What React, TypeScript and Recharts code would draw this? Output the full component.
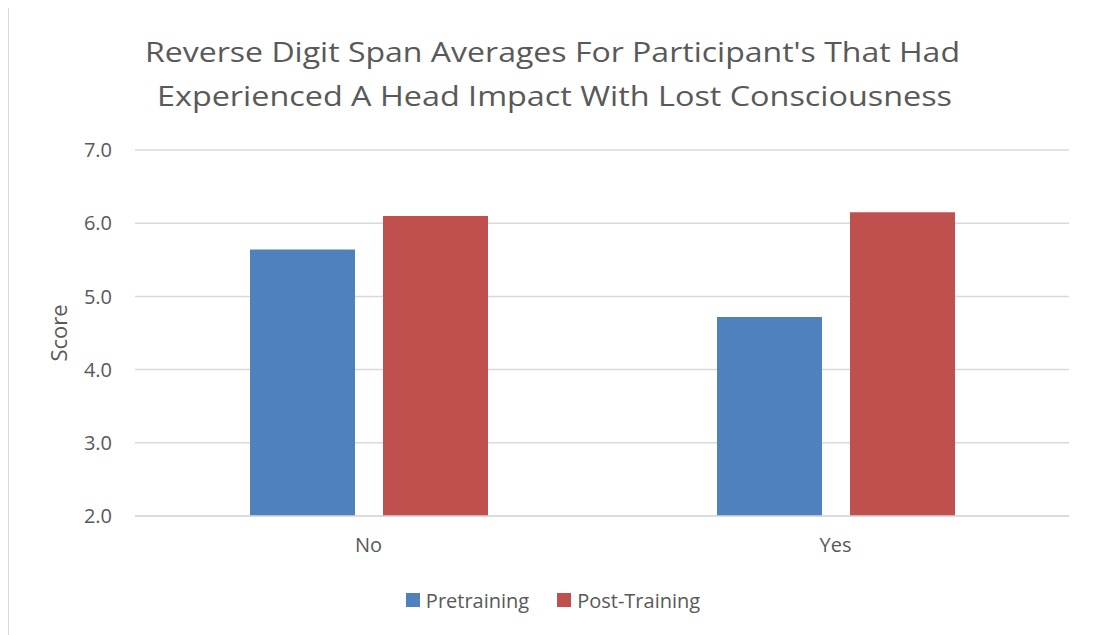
import { BarChart, Bar, XAxis, YAxis, CartesianGrid, Legend } from 'recharts';

const categories = ['No', 'Yes'];
const pretraining = [5.64, 4.72];
const postTraining = [6.1, 6.15];
const yTicks = [2, 3, 4, 5, 6, 7];
const seriesOrder = ['pre', 'post'];

const titleLines = [
    'Reverse Digit Span Averages For Participant\'s That Had',
    'Experienced A Head Impact With Lost Consciousness',
];

const FONT = '"Open Sans", sans-serif';
const TEXT = '#595959';
const GRID = '#d9d9d9';
const BLUE = '#4f81bd';
const RED = '#c0504d';

const data = categories.map((c, i) => ({
    name: c,
    pre: pretraining[i],
    post: postTraining[i],
}));

const renderLegend = (props: any) => {
    const items = [...(props.payload || [])].sort(
        (a: any, b: any) => seriesOrder.indexOf(a.dataKey) - seriesOrder.indexOf(b.dataKey)
    );
    return (
        <div
            style={{
                height: 30,
                display: 'flex',
                justifyContent: 'center',
                alignItems: 'center',
                fontFamily: FONT,
                fontSize: 20,
                color: TEXT,
                paddingLeft: 56,
            }}
        >
            {items.map((p: any) => (
                <div key={p.value} style={{ display: 'flex', alignItems: 'center', marginRight: 28 }}>
                    <span style={{ width: 14, height: 14, background: p.color, marginRight: 6 }} />
                    <span>{p.value}</span>
                </div>
            ))}
        </div>
    );
};

const ScoreLabel = (props: any) => {
    const vb = props.viewBox || { y: 0, height: 0 };
    const cy = vb.y + vb.height / 2;
    return (
        <text
            x={49}
            y={cy}
            transform={`rotate(-90 49 ${cy})`}
            textAnchor="middle"
            dominantBaseline="central"
            fill={TEXT}
            fontFamily={FONT}
            fontSize={22}
        >
            Score
        </text>
    );
};

export default function App() {
    return (
        <div
            style={{
                position: 'relative',
                marginTop: -2,
                width: 1085,
                height: 629,
                borderTop: `1px solid ${GRID}`,
                borderLeft: `1px solid ${GRID}`,
                background: '#fff',
            }}
        >
            <BarChart
                width={1084}
                height={628}
                data={data}
                margin={{ top: 143, right: 24, left: 0, bottom: 20 }}
                barGap={28}
            >
                <CartesianGrid vertical={false} stroke={GRID} strokeWidth={1.5} />
                <XAxis
                    dataKey="name"
                    height={69}
                    tickLine={false}
                    tickSize={0}
                    tickMargin={22}
                    axisLine={{ stroke: GRID, strokeWidth: 1.5 }}
                    tick={{ fill: TEXT, fontFamily: FONT, fontSize: 20 }}
                />
                <YAxis
                    width={126}
                    domain={[2, 7]}
                    ticks={yTicks}
                    allowDataOverflow
                    tickFormatter={(v: number) => v.toFixed(1)}
                    tickLine={false}
                    tickSize={0}
                    tickMargin={23}
                    axisLine={false}
                    tick={{ fill: TEXT, fontFamily: FONT, fontSize: 20 }}
                    label={<ScoreLabel />}
                />
                <Legend verticalAlign="bottom" height={30} content={renderLegend} />
                <Bar dataKey="pre" name="Pretraining" fill={BLUE} barSize={105} isAnimationActive={false} />
                <Bar dataKey="post" name="Post-Training" fill={RED} barSize={105} isAnimationActive={false} />
            </BarChart>
            <svg
                width={1084}
                height={130}
                style={{ position: 'absolute', left: 0, top: 0, pointerEvents: 'none' }}
            >
                <text
                    x={552.5 - 9}
                    y={62 - 7}
                    textAnchor="middle"
                    fill={TEXT}
                    fontFamily={FONT}
                    fontSize={28}
                    textLength={815}
                    lengthAdjust="spacingAndGlyphs"
                >
                    {titleLines[0]}
                </text>
                <text
                    x={554.5 - 9}
                    y={106 - 7}
                    textAnchor="middle"
                    fill={TEXT}
                    fontFamily={FONT}
                    fontSize={28}
                    textLength={795}
                    lengthAdjust="spacingAndGlyphs"
                >
                    {titleLines[1]}
                </text>
            </svg>
        </div>
    );
}
